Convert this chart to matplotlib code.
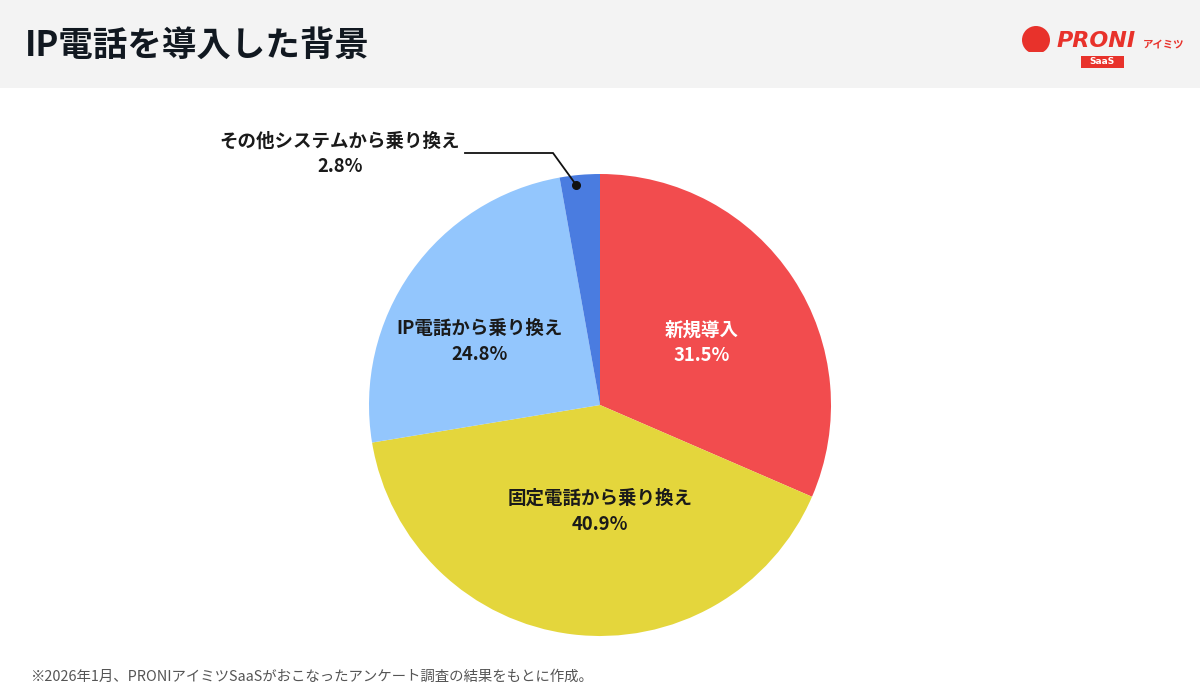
import matplotlib
matplotlib.use("Agg")
import matplotlib.pyplot as plt
from matplotlib.patches import Rectangle, Circle
from matplotlib.transforms import IdentityTransform

plt.rcParams['font.family'] = ['Noto Sans CJK JP', 'DejaVu Sans']

title = "IP電話を導入した背景"
labels = ["新規導入", "固定電話から乗り換え", "IP電話から乗り換え", "その他システムから乗り換え"]
shares = [31.5, 40.9, 24.8, 2.8]
colors = ["#F24C4E", "#E4D63C", "#93C6FD", "#4A7CE0"]
text_colors = ["white", "#1a1a1a", "#1a1a1a", "#1a1a1a"]
footnote = "※2026年1月、PRONIアイミツSaaSがおこなったアンケート調査の結果をもとに作成。"

W, H = 1200, 700
fig = plt.figure(figsize=(W / 100, H / 100), dpi=100)
fig.patch.set_facecolor("white")
px = IdentityTransform()  # figure pixels, origin bottom-left

# header band
fig.patches.append(Rectangle((0, H - 88), W, 88, transform=px,
                             facecolor="#F3F3F3", edgecolor="none", zorder=0))
fig.text(25 / W, 1 - 45 / H, title, fontsize=24.8, fontweight="bold", color="#111820",
         va="center", ha="left")

# logo (rough approximation)
fig.patches.append(Circle((1036, H - 40), 14, transform=px,
                          facecolor="#E8322B", edgecolor="none"))
fig.patches.append(Rectangle((1020, H - 58), 32, 6, transform=px,
                             facecolor="#F3F3F3", edgecolor="none"))
fig.text(1057 / W, 1 - 41 / H, "PRONI", fontsize=16, fontweight="bold", style="italic",
         color="#E8322B", va="center", ha="left", family="DejaVu Sans")
fig.text(1143 / W, 1 - 44 / H, "アイミツ", fontsize=7.5, fontweight="bold",
         color="#E8322B", va="center", ha="left")
fig.patches.append(Rectangle((1081, H - 68), 43, 12, transform=px,
                             facecolor="#E8322B", edgecolor="none"))
fig.text(1102.5 / W, 1 - 62 / H, "SaaS", fontsize=6.5, fontweight="bold",
         color="white", va="center", ha="center", family="DejaVu Sans")

# pie
cx, cy, R = 600, 405, 231
ax = fig.add_axes([(cx - R) / W, (H - cy - R) / H, 2 * R / W, 2 * R / H])
wedges, _ = ax.pie(shares, colors=colors, startangle=90, counterclock=False,
                   radius=1, wedgeprops=dict(linewidth=0))
ax.set_xlim(-1, 1)
ax.set_ylim(-1, 1)
ax.axis("off")

label_xy = [(0.44, 0.27), (0.0, -0.46), (-0.52, 0.275)]
for i in range(3):
    ax.text(label_xy[i][0], label_xy[i][1], f"{labels[i]}\n{shares[i]}%",
            ha="center", va="center", fontsize=13.3, fontweight="bold",
            color=text_colors[i], linespacing=1.45)

# small slice annotation
import numpy as np
w = wedges[3]
ang = np.deg2rad((w.theta1 + w.theta2) / 2 + 1.2)
dx, dy = 0.96 * np.cos(ang), 0.96 * np.sin(ang)
inv = ax.transData.inverted()
(ex, ey), (kx, ky) = inv.transform([(465, H - 153), (553, H - 153)])
ax.plot([ex, kx, dx], [ey, ky, dy], color="#111", lw=1.3, clip_on=False,
        solid_joinstyle="miter")
ax.plot(dx, dy, "o", color="#111", ms=5.5, zorder=5)
fig.text(340 / W, 1 - 154 / H, f"{labels[3]}\n{shares[3]}%", ha="center", va="center",
         fontsize=13.3, fontweight="bold", color="#1a1a1a", linespacing=1.45)

fig.text(30 / W, 1 - 677 / H, footnote, fontsize=10.4, color="#555555", va="center", ha="left")

fig.savefig("out.png", dpi=100)
